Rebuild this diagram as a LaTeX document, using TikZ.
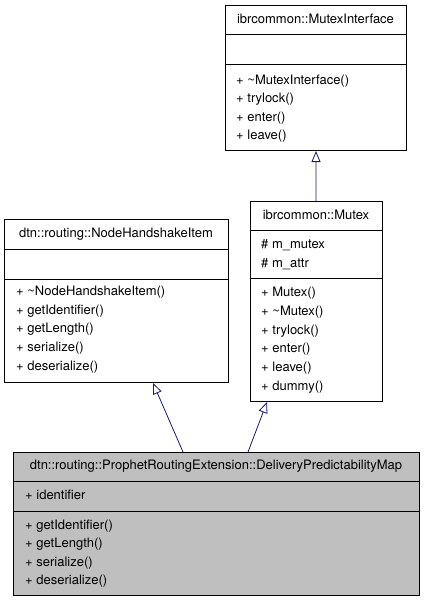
\documentclass[tikz,border=0pt]{standalone}
\usepackage{fontspec}
\setmainfont{TeX Gyre Heros}
\usetikzlibrary{arrows.meta,positioning}
\definecolor{EdgeBlue}{RGB}{25,25,112}
\definecolor{FocusGrey}{RGB}{191,191,191}

\tikzset{
  classbox/.style={draw,line width=1bp,anchor=north west,inner sep=0pt,fill=white},
  member/.style={anchor=base west,inner sep=0pt},
  classname/.style={anchor=base,inner sep=0pt},
  inherit/.style={draw=EdgeBlue,line width=0.8bp,
    -{Triangle[open,length=11bp,width=9bp,fill=white]}}
}

\begin{document}
\begin{tikzpicture}[x=1bp,y=-1bp,font=\fontsize{13bp}{15bp}\selectfont]
      \useasboundingbox (0,0) rectangle (424,603);
      % ibrcommon::MutexInterface
      \node[classbox,minimum width=181bp,minimum height=145bp] (iface) at (225,5) {};
      \draw[line width=1bp] (225,35)--(406,35) (225,65)--(406,65);
      \node[classname] (ifaceName) at (315.5,23.5) {ibrcommon::MutexInterface};
      \node[member] (if1) at (236,84.5) {+ \textasciitilde MutexInterface()};
      \node[member] (if2) at (236,103) {+ trylock()};
      \node[member] (if3) at (236,121.5) {+ enter()};
      \node[member] (if4) at (236,140) {+ leave()};

      % ibrcommon::Mutex
      \node[classbox,minimum width=132bp,minimum height=200bp] (mutex) at (250,201) {};
      \draw[line width=1bp] (250,230)--(382,230) (250,278)--(382,278);
      \node[classname] (mutexName) at (316,219.5) {ibrcommon::Mutex};
      \node[member] (mx1) at (261,248.5) {\# m\_mutex};
      \node[member] (mx2) at (261,267.5) {\# m\_attr};
      \node[member] (mx3) at (261,296.5) {+ Mutex()};
      \node[member] (mx4) at (261,315.5) {+ \textasciitilde Mutex()};
      \node[member] (mx5) at (261,334) {+ trylock()};
      \node[member] (mx6) at (261,352.5) {+ enter()};
      \node[member] (mx7) at (261,371.5) {+ leave()};
      \node[member] (mx8) at (261,390) {+ dummy()};

      % dtn::routing::NodeHandshakeItem
      \node[classbox,minimum width=224bp,minimum height=163bp] (item) at (4,219) {};
      \draw[line width=1bp] (4,249)--(228,249) (4,279)--(228,279);
      \node[classname] (itemName) at (116,237.5) {dtn::routing::NodeHandshakeItem};
      \node[member] (it1) at (16,295.5) {+ \textasciitilde NodeHandshakeItem()};
      \node[member] (it2) at (16,314.5) {+ getIdentifier()};
      \node[member] (it3) at (16,332.5) {+ getLength()};
      \node[member] (it4) at (16,351.5) {+ serialize()};
      \node[member] (it5) at (16,370) {+ deserialize()};

      % dtn::routing::ProphetRoutingExtension::DeliveryPredictabilityMap
      \node[classbox,fill=FocusGrey,minimum width=406bp,minimum height=143bp] (dpm) at (13,452) {};
      \draw[line width=1bp] (13,481)--(419,481) (13,511)--(419,511);
      \node[classname] (dpmName) at (216,469.5)
        {dtn::routing::ProphetRoutingExtension::DeliveryPredictabilityMap};
      \node[member] (dp1) at (25,499.5) {+ identifier};
      \node[member] (dp2) at (25,529.5) {+ getIdentifier()};
      \node[member] (dp3) at (25,547.5) {+ getLength()};
      \node[member] (dp4) at (25,566.5) {+ serialize()};
      \node[member] (dp5) at (25,584.5) {+ deserialize()};

      % inheritance
      \draw[inherit] ([xshift=66bp]mutex.north west)--([xshift=91bp]iface.south west);
      \draw[inherit] ([xshift=170bp]dpm.north west)--([xshift=149bp]item.south west);
      \draw[inherit] ([xshift=235bp]dpm.north west)--([xshift=17bp]mutex.south west);
    \end{tikzpicture}
\end{document}
